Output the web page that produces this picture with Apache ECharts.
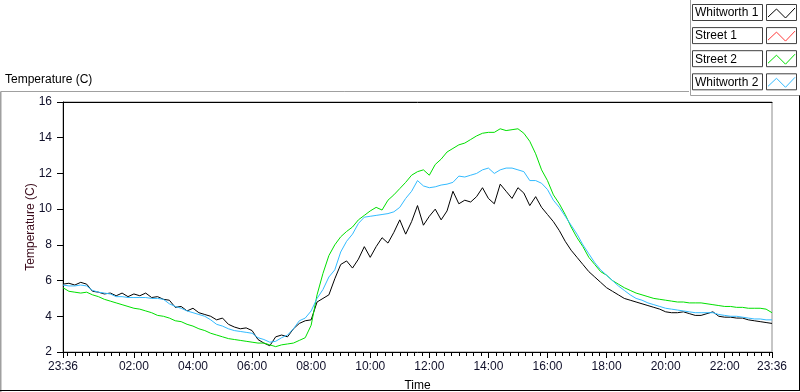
<!DOCTYPE html>
<html>
<head>
<meta charset="utf-8">
<script src="https://cdn.jsdelivr.net/npm/echarts@6/dist/echarts.min.js"></script>
<style>
  html, body { margin: 0; padding: 0; background: #fff; }
  #chart { width: 800px; height: 392px; }
</style>
</head>
<body>
<div id="chart"></div>
<script>
// samples every 12 minutes, starting 23:36 (t = 0) to 23:36 next day (t = 1440)
var stepMin = 12;
var tickMinutes = [0, 144, 264, 384, 504, 624, 744, 864, 984, 1104, 1224, 1344, 1440];
var tickLabels = ['23:36', '02:00', '04:00', '06:00', '08:00', '10:00', '12:00',
  '14:00', '16:00', '18:00', '20:00', '22:00', '23:36'];
var seriesNames = ['Whitworth 1', 'Street 1', 'Street 2', 'Whitworth 2'];
var seriesColors = ['#000000', '#ff3a3a', '#00e000', '#33bbff'];

var whitworth1 = [5.8, 5.85, 5.75, 5.9, 5.8, 5.4, 5.35, 5.25, 5.3, 5.15,
  5.3, 5.1, 5.25, 5.15, 5.3, 5.05, 5.1, 4.95, 4.9, 4.5,
  4.55, 4.3, 4.45, 4.2, 4.1, 4.0, 3.8, 3.9, 3.55, 3.4,
  3.3, 3.35, 3.2, 2.7, 2.5, 2.35, 2.85, 2.95, 2.85, 3.3,
  3.6, 3.75, 3.8, 4.8, 5.0, 5.2, 6.1, 6.9, 7.1, 6.7,
  7.2, 7.9, 7.3, 7.9, 8.4, 8.1, 8.7, 9.4, 8.6, 9.3,
  10.2, 9.1, 9.6, 10.0, 9.4, 9.9, 11.0, 10.3, 10.5, 10.4,
  10.7, 11.2, 10.6, 10.3, 11.4, 11.0, 10.6, 11.2, 10.9, 10.2,
  10.7, 10.1, 9.7, 9.3, 8.8, 8.2, 7.7, 7.3, 6.9, 6.5,
  6.2, 5.9, 5.6, 5.4, 5.2, 5.0, 4.9, 4.8, 4.7, 4.6,
  4.5, 4.4, 4.25, 4.2, 4.2, 4.25, 4.15, 4.05, 4.05, 4.15,
  4.25, 4.0, 3.95, 3.95, 3.9, 3.9, 3.8, 3.75, 3.7, 3.65,
  3.6];
var street1 = [];
var street2 = [5.6, 5.4, 5.35, 5.3, 5.35, 5.2, 5.1, 4.95, 4.85, 4.75,
  4.65, 4.55, 4.45, 4.4, 4.3, 4.2, 4.05, 4.0, 3.9, 3.75,
  3.7, 3.55, 3.45, 3.3, 3.2, 3.05, 2.95, 2.85, 2.75, 2.7,
  2.65, 2.6, 2.55, 2.5, 2.5, 2.4, 2.3, 2.4, 2.45, 2.5,
  2.65, 2.8, 3.5, 5.2, 6.4, 7.4, 8.0, 8.45, 8.75, 9.0,
  9.4, 9.65, 9.9, 10.1, 9.95, 10.5, 10.8, 11.15, 11.5, 11.9,
  12.1, 12.2, 11.9, 12.5, 12.8, 13.2, 13.4, 13.6, 13.7, 13.9,
  14.1, 14.25, 14.3, 14.3, 14.5, 14.4, 14.45, 14.5, 14.25, 13.8,
  13.1, 12.2, 11.6, 10.8, 10.3, 9.7, 9.0, 8.4, 7.9, 7.3,
  6.9, 6.5, 6.3, 6.0, 5.8, 5.6, 5.45, 5.3, 5.2, 5.1,
  5.0, 4.95, 4.9, 4.85, 4.8, 4.8, 4.75, 4.75, 4.75, 4.7,
  4.65, 4.6, 4.55, 4.55, 4.5, 4.5, 4.45, 4.45, 4.45, 4.4,
  4.2];
var whitworth2 = [5.75, 5.7, 5.7, 5.75, 5.7, 5.45, 5.35, 5.3, 5.25, 5.1,
  5.1, 5.05, 5.05, 5.05, 5.05, 5.0, 5.0, 4.95, 4.7, 4.55,
  4.45, 4.3, 4.2, 4.1, 4.0, 3.8, 3.55, 3.45, 3.3, 3.2,
  3.15, 3.1, 3.05, 2.8, 2.7, 2.55, 2.6, 2.8, 2.95, 3.3,
  3.75, 3.9, 4.3, 5.0, 5.5, 6.2, 6.6, 7.6, 8.2, 8.6,
  9.2, 9.55, 9.6, 9.65, 9.7, 9.75, 9.85, 10.1, 10.6, 11.0,
  11.6, 11.3, 11.2, 11.25, 11.35, 11.4, 11.5, 11.85, 11.8, 11.9,
  12.0, 12.2, 12.3, 12.0, 12.2, 12.3, 12.3, 12.2, 12.1, 11.6,
  11.6, 11.45, 11.1, 10.5, 10.1, 9.6, 9.1, 8.6, 8.0, 7.5,
  7.0, 6.6, 6.3, 6.0, 5.7, 5.45, 5.2, 5.0, 4.9, 4.75,
  4.65, 4.55, 4.45, 4.4, 4.35, 4.3, 4.25, 4.2, 4.2, 4.2,
  4.2, 4.1, 4.05, 4.0, 4.0, 3.95, 3.9, 3.85, 3.85, 3.8,
  3.8];

var allValues = [whitworth1, street1, street2, whitworth2];

function toPairs(arr) {
  return arr.map(function(v, i) { return [i * stepMin, v]; });
}

// minor ticks every 15 min (23:45, 00:00, ...)
var minorTicks = [];
for (var m = 9; m < 1440; m += 15) {
  if (tickMinutes.indexOf(m) < 0) minorTicks.push(m);
}

var FONT = 'Liberation Sans';
var chart = echarts.init(document.getElementById('chart'));

var graphics = [
  { type: 'text', left: 5, top: 74, style: { text: 'Temperature (C)', font: '12px ' + FONT, fill: '#000' } },
  { type: 'line', shape: { x1: 0.75, y1: 91.5, x2: 689, y2: 91.5 }, style: { stroke: '#a0a0a0', lineWidth: 1 } },
  { type: 'line', shape: { x1: 0.75, y1: 91.5, x2: 0.75, y2: 392 }, style: { stroke: '#a0a0a0', lineWidth: 1.5 } },
  { type: 'line', shape: { x1: 690.5, y1: 0, x2: 690.5, y2: 95.5 }, style: { stroke: '#a0a0a0', lineWidth: 1 } },
  { type: 'line', shape: { x1: 690.5, y1: 95.5, x2: 800, y2: 95.5 }, style: { stroke: '#a0a0a0', lineWidth: 1 } },
  { type: 'line', shape: { x1: 799.5, y1: 95.5, x2: 799.5, y2: 390.5 }, style: { stroke: '#000', lineWidth: 1 } },
  { type: 'line', shape: { x1: 0, y1: 390.5, x2: 800, y2: 390.5 }, style: { stroke: '#000', lineWidth: 1 } }
];

seriesNames.forEach(function(name, i) {
  var y0 = 4.5 + i * 23.1;
  graphics.push({ type: 'rect', shape: { x: 692.5, y: y0, width: 70, height: 16 },
    style: { fill: '#fff', stroke: '#404040', lineWidth: 1 } });
  graphics.push({ type: 'text', x: 695, y: y0 + 8.5,
    style: { text: name, font: '12px ' + FONT, fill: '#000', verticalAlign: 'middle' } });
  graphics.push({ type: 'rect', shape: { x: 766.5, y: y0, width: 30, height: 16 },
    style: { fill: '#fff', stroke: '#404040', lineWidth: 1 } });
  graphics.push({ type: 'polyline', shape: { points: [
      [768, y0 + 12.5], [776.5, y0 + 4.5], [785.5, y0 + 13.5], [795, y0 + 3.5]] },
    style: { stroke: seriesColors[i], lineWidth: 1, fill: null } });
});

var option = {
  animation: false,
  backgroundColor: '#fff',
  textStyle: { fontFamily: FONT },
  grid: {
    left: 63, top: 102, right: 28, bottom: 40,
    outerBoundsMode: 'none',
    show: true, borderColor: '#8c8c8c', borderWidth: 1, backgroundColor: '#fff'
  },
  xAxis: [{
    type: 'value',
    min: 0, max: 1440,
    position: 'bottom',
    name: 'Time',
    nameLocation: 'middle',
    nameGap: 28,
    nameMoveOverlap: false,
    nameTextStyle: { color: '#000', fontSize: 12, fontFamily: FONT },
    axisLine: { show: true, lineStyle: { color: '#000', width: 1 } },
    axisTick: { show: true, length: 6, customValues: tickMinutes, lineStyle: { color: '#000' } },
    axisLabel: {
      customValues: tickMinutes,
      margin: 9,
      color: '#10102a',
      fontSize: 12,
      fontFamily: FONT,
      formatter: function(v) { return tickLabels[tickMinutes.indexOf(v)]; }
    },
    splitLine: { show: false }
  }, {
    type: 'value',
    min: 0, max: 1440,
    position: 'bottom',
    axisLine: { show: false },
    axisTick: { show: true, length: 4, customValues: minorTicks, lineStyle: { color: '#000' } },
    axisLabel: { show: false },
    splitLine: { show: false }
  }, {
    type: 'value',
    min: 0, max: 1440,
    position: 'top',
    axisLine: { show: true, lineStyle: { color: '#000', width: 1 } },
    axisTick: { show: false },
    axisLabel: { show: false },
    splitLine: { show: false }
  }],
  yAxis: {
    type: 'value',
    min: 2, max: 16, interval: 2,
    name: 'Temperature (C)',
    nameLocation: 'middle',
    nameGap: 26,
    nameMoveOverlap: false,
    nameTextStyle: { color: '#3a0a1a', fontSize: 12, fontFamily: FONT },
    axisLine: { show: true, lineStyle: { color: '#000', width: 1 } },
    axisTick: { show: true, length: 6, lineStyle: { color: '#000' } },
    axisLabel: { margin: 11, color: '#10102a', fontSize: 12, fontFamily: FONT },
    splitLine: { show: false }
  },
  series: seriesNames.map(function(name, i) {
    return {
      name: name,
      type: 'line',
      xAxisIndex: 0,
      data: toPairs(allValues[i]),
      showSymbol: false,
      symbol: 'none',
      lineStyle: { color: seriesColors[i], width: 1 },
      itemStyle: { color: seriesColors[i] },
      z: 2 + i
    };
  }),
  graphic: graphics
};

chart.setOption(option);
</script>
</body>
</html>
